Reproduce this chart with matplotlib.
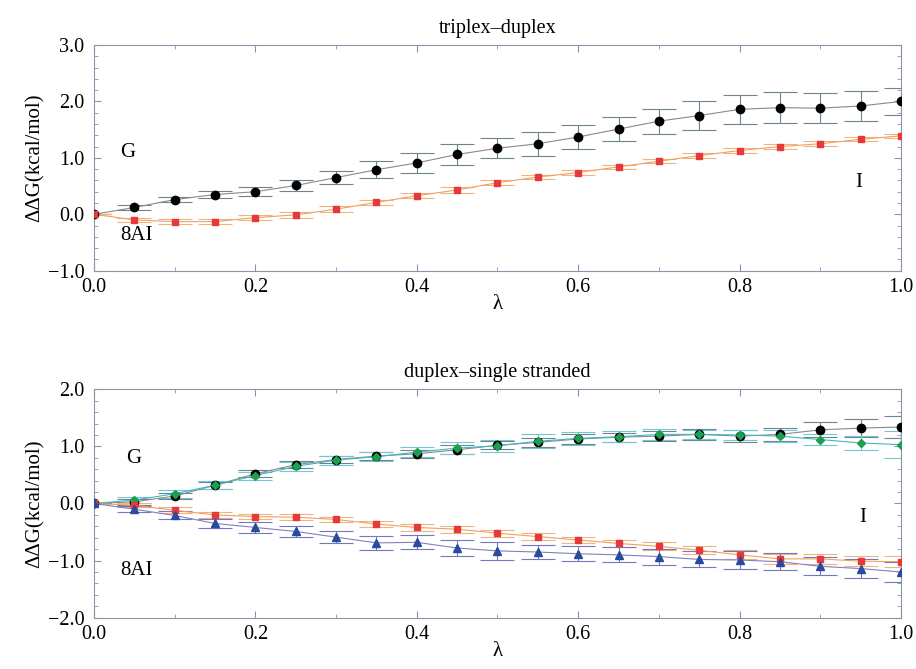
import matplotlib
matplotlib.use('Agg')
import matplotlib.pyplot as plt
import numpy as np
from matplotlib.ticker import MultipleLocator, FuncFormatter

plt.rcParams['font.family'] = ['Liberation Serif', 'DejaVu Serif']
plt.rcParams['mathtext.fontset'] = 'stix'

lam = [0.0, 0.05, 0.10, 0.15, 0.20, 0.25, 0.30, 0.35, 0.40, 0.45, 0.50,
       0.55, 0.60, 0.65, 0.70, 0.75, 0.80, 0.85, 0.90, 0.95, 1.0]

# triplex-duplex
top_G = [0.0, 0.12, 0.26, 0.35, 0.40, 0.51, 0.65, 0.79, 0.91, 1.06, 1.17,
         1.25, 1.37, 1.51, 1.65, 1.75, 1.86, 1.89, 1.88, 1.92, 2.00]
top_G_err = [0.0, 0.05, 0.05, 0.07, 0.08, 0.10, 0.12, 0.15, 0.17, 0.19, 0.18,
             0.21, 0.21, 0.22, 0.22, 0.25, 0.26, 0.27, 0.27, 0.27, 0.24]
top_I = [0.0, -0.10, -0.13, -0.13, -0.06, -0.01, 0.09, 0.21, 0.33, 0.43, 0.56,
         0.66, 0.74, 0.84, 0.94, 1.04, 1.13, 1.20, 1.25, 1.33, 1.39]
top_I_err = [0.0, 0.04, 0.05, 0.05, 0.05, 0.05, 0.05, 0.05, 0.05, 0.05, 0.04,
             0.04, 0.04, 0.04, 0.04, 0.04, 0.04, 0.04, 0.04, 0.04, 0.04]

# duplex-single stranded
bot_G = [0.0, 0.03, 0.13, 0.32, 0.52, 0.68, 0.77, 0.83, 0.87, 0.94, 1.02,
         1.07, 1.13, 1.16, 1.18, 1.21, 1.18, 1.21, 1.29, 1.32, 1.34]
bot_G_err = [0.0, 0.05, 0.06, 0.06, 0.06, 0.06, 0.06, 0.07, 0.07, 0.08, 0.07,
             0.08, 0.08, 0.08, 0.09, 0.09, 0.10, 0.11, 0.13, 0.16, 0.19]
bot_G2 = [0.0, 0.06, 0.17, 0.32, 0.49, 0.65, 0.76, 0.82, 0.90, 0.97, 1.01,
          1.09, 1.14, 1.17, 1.21, 1.21, 1.20, 1.18, 1.12, 1.06, 1.03]
bot_G2_err = [0.0, 0.05, 0.07, 0.07, 0.07, 0.08, 0.08, 0.08, 0.09, 0.10, 0.10,
              0.12, 0.12, 0.10, 0.10, 0.08, 0.08, 0.10, 0.10, 0.12, 0.24]
bot_I = [0.0, -0.03, -0.12, -0.20, -0.23, -0.24, -0.28, -0.36, -0.42, -0.45, -0.52,
         -0.58, -0.64, -0.70, -0.75, -0.82, -0.90, -0.97, -0.97, -1.01, -1.02]
bot_I_err = [0.0, 0.04, 0.05, 0.05, 0.05, 0.05, 0.05, 0.05, 0.06, 0.06, 0.06,
             0.06, 0.06, 0.06, 0.07, 0.07, 0.08, 0.09, 0.09, 0.09, 0.10]
bot_A = [0.0, -0.10, -0.21, -0.35, -0.42, -0.49, -0.59, -0.69, -0.68, -0.78, -0.83,
         -0.85, -0.88, -0.90, -0.93, -0.98, -0.99, -1.02, -1.10, -1.14, -1.20]
bot_A_err = [0.0, 0.05, 0.07, 0.08, 0.09, 0.10, 0.11, 0.12, 0.12, 0.14, 0.16,
             0.13, 0.13, 0.13, 0.14, 0.14, 0.15, 0.15, 0.16, 0.16, 0.17]


def series(ax, y, err, mcol, lcol, ecol, marker, ms):
    ax.errorbar(lam, y, yerr=err, fmt='none', ecolor=ecol, elinewidth=0.8,
                capsize=12, capthick=0.8, zorder=2)
    ax.plot(lam, y, '-', color=lcol, lw=0.8, zorder=3)
    ax.plot(lam, y, marker, color=mcol, ms=ms, ls='none', zorder=4)


fmt = FuncFormatter(lambda v, p: ('%.1f' % v).replace('-', '\u2212'))


def style(ax, ylo, yhi):
    ax.set_xlim(0, 1.0)
    ax.set_ylim(ylo, yhi)
    ax.xaxis.set_major_locator(MultipleLocator(0.2))
    ax.xaxis.set_minor_locator(MultipleLocator(0.1))
    ax.yaxis.set_major_locator(MultipleLocator(1.0))
    ax.yaxis.set_minor_locator(MultipleLocator(0.2))
    ax.xaxis.set_major_formatter(fmt)
    ax.yaxis.set_major_formatter(fmt)
    ax.tick_params(which='both', direction='in', top=True, right=True,
                   color='#8a96a8', labelsize=14.5)
    ax.tick_params(axis='x', pad=5)
    ax.tick_params(axis='y', pad=7)
    ax.tick_params(which='major', length=5)
    ax.tick_params(which='minor', length=3)
    for s in ax.spines.values():
        s.set_color('#8a96a8')
        s.set_linewidth(0.8)
    ax.set_xlabel('λ', fontsize=15, labelpad=-1)
    ax.set_ylabel('ΔΔG(kcal/mol)', fontsize=15, labelpad=2)


fig = plt.figure(figsize=(9.16, 6.69), dpi=100)
ax1 = fig.add_axes([0.1026, 0.5954, 0.881, 0.3373])
ax2 = fig.add_axes([0.1026, 0.0767, 0.881, 0.3414])

series(ax1, top_G, top_G_err, 'black', '#8a8a8a', '#6f8290', 'o', 6)
series(ax1, top_I, top_I_err, '#e8393a', '#f0a060', '#f4b27c', 's', 5)
style(ax1, -1.0, 3.0)
ax1.set_title('triplex–duplex', fontsize=14.5, pad=9)
ax1.text(0.032, 1.1, 'G', fontsize=15, va='center')
ax1.text(0.032, -0.37, '8AI', fontsize=15, va='center')
ax1.text(0.943, 0.57, 'I', fontsize=15, va='center')

series(ax2, bot_G, bot_G_err, 'black', '#8a8a8a', '#6f8290', 'o', 6)
series(ax2, bot_G2, bot_G2_err, '#1aa050', '#40b8c0', '#70c8d0', 'D', 4)
series(ax2, bot_I, bot_I_err, '#e8393a', '#f0a060', '#f4b27c', 's', 5)
series(ax2, bot_A, bot_A_err, '#2a4aa0', '#8080c0', '#7078c0', '^', 6)
style(ax2, -2.0, 2.0)
ax2.set_title('duplex–single stranded', fontsize=14.5, pad=9)
ax2.text(0.04, 0.79, 'G', fontsize=15, va='center')
ax2.text(0.032, -1.17, '8AI', fontsize=15, va='center')
ax2.text(0.948, -0.25, 'I', fontsize=15, va='center')

fig.savefig('out.png', dpi=100)
